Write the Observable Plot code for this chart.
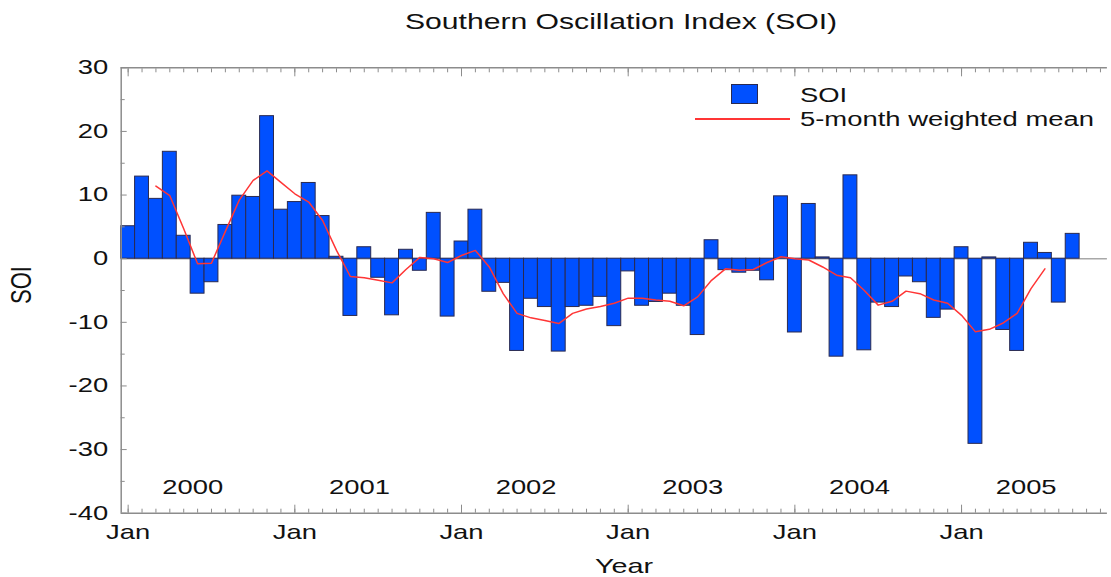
<!DOCTYPE html>
<html><head><meta charset="utf-8">
<script src="https://cdn.jsdelivr.net/npm/d3@7"></script>
<script src="https://cdn.jsdelivr.net/npm/@observablehq/plot@0.6"></script>
<style>
html,body{margin:0;padding:0;background:#fff;overflow:hidden;}
#wrap{position:relative;width:1111px;height:577px;font-family:"Liberation Sans",Arial,sans-serif;color:#111;}
#head{height:50px;}
.t{position:absolute;white-space:nowrap;transform-origin:0 0;}
svg{display:block;}
</style></head><body><div id="wrap"><div id="head"></div></div>
<script>
// ---- data ----
const startYear = 2000;
const soi = [
  5.1, 12.9, 9.4, 16.8, 3.6, -5.5, -3.7, 5.3, 9.9, 9.7, 22.4, 7.7,
  8.9, 11.9, 6.7, 0.3, -9.0, 1.8, -3.0, -8.9, 1.4, -1.9, 7.2, -9.1,
  2.7, 7.7, -5.2, -3.8, -14.5, -6.3, -7.6, -14.6, -7.6, -7.4, -6.0, -10.6,
  -2.0, -7.4, -6.8, -5.5, -7.4, -12.0, 2.9, -1.8, -2.2, -1.9, -3.4, 9.8,
  -11.6, 8.6, 0.2, -15.4, 13.1, -14.4, -6.9, -7.6, -2.8, -3.7, -9.3, -8.0,
  1.8, -29.1, 0.2, -11.2, -14.5, 2.5, 0.9, -6.9, 3.9
];
const meanStart = 2; // first month of the weighted mean (Mar 2000)
const weightedMean = [
  11.4, 9.9, 4.7, -0.8, -0.7, 4.3, 9.2, 12.3, 13.8, 12.0,
  10.2, 8.9, 6.0, 1.3, -2.8, -3.0, -3.4, -3.8, -1.7, 0.2, 0.0, -0.6,
  0.5, 1.3, -1.3, -5.5, -8.6, -9.3, -9.7, -10.2, -8.6, -7.9, -7.5, -7.0,
  -6.2, -6.2, -6.5, -6.7, -7.4, -6.0, -3.4, -1.6, -1.8, -1.7, -0.6, 0.3,
  0.0, -0.2, -1.3, -2.6, -3.0, -5.0, -7.3, -6.7, -5.1, -5.5, -6.5, -7.0,
  -8.9, -11.5, -11.1, -10.1, -8.6, -4.7, -1.6
];
const yearLabels = [2000, 2001, 2002, 2003, 2004, 2005];
const monthLabel = "Jan";
const yTicks = [-40, -30, -20, -10, 0, 10, 20, 30];
const yMinorTicks = [-35, -25, -15, -5, 5, 15, 25];
const xDomain = [-0.5, 70.5];
const yDomain = [-40, 30];
const titleText = "Southern Oscillation Index (SOI)";
const xLabel = "Year";
const yLabel = "SOI";
const legendBars = "SOI";
const legendLine = "5-month weighted mean";

// ---- tables ----
const bars = soi.map((v, i) => ({i, v}));
const mean = weightedMean.map((v, k) => ({i: k + meanStart, v}));
const janTicks = yearLabels.map(y => (y - startYear) * 12);
const monthTicks = d3.range(0, Math.floor(xDomain[1]) + 1);
const yearPos = yearLabels.map(y => (y - startYear) * 12 + 4.65);

const axisColor = "#8c8c8c";
const S = 1.37; // horizontal stretch of the reference's lettering

const chart = Plot.plot({
  width: 1111, height: 527,
  marginLeft: 120.7, marginRight: 4.1, marginTop: 17.3, marginBottom: 64.3,
  style: {fontFamily: '"Liberation Sans", Arial, sans-serif', fontSize: "20px", color: "#111", background: "#fff", overflow: "visible"},
  x: {type: "linear", domain: xDomain},
  y: {domain: yDomain},
  marks: [
    Plot.ruleY([0], {stroke: "#a8a8a8", strokeWidth: 1.5}),
    Plot.rectY(bars, {x1: d => d.i - 0.5, x2: d => d.i + 0.5, y: "v", fill: "#0050ff", stroke: "#2a2a50", strokeWidth: 1}),
    Plot.line(mean, {x: "i", y: "v", stroke: "#ff3535", strokeWidth: 1.5}),
    // frame lines
    Plot.ruleX([xDomain[0]], {stroke: axisColor, strokeWidth: 1.5}),
    Plot.ruleY(yDomain, {stroke: axisColor, strokeWidth: 1.5}),
    // inward ticks
    Plot.axisX(monthTicks, {anchor: "bottom", tickSize: 4, insetBottom: 4, fill: "none", label: null, stroke: axisColor}),
    Plot.axisX(janTicks, {anchor: "bottom", tickSize: 8, insetBottom: 8, fill: "none", label: null, stroke: axisColor}),
    Plot.axisX(monthTicks, {anchor: "top", tickSize: 4, insetTop: 4, fill: "none", label: null, stroke: axisColor}),
    Plot.axisX(janTicks, {anchor: "top", tickSize: 8, insetTop: 8, fill: "none", label: null, stroke: axisColor}),
    Plot.axisY(yTicks, {anchor: "left", tickSize: 6, insetLeft: 6, fill: "none", label: null, stroke: axisColor}),
    Plot.axisY(yMinorTicks, {anchor: "left", tickSize: 4, insetLeft: 4, fill: "none", label: null, stroke: axisColor}),
    // labels
    Plot.axisX(janTicks, {anchor: "bottom", tickSize: 0, tickPadding: 12, tickFormat: () => monthLabel, label: null, fill: "#111"}),
    Plot.axisX(yearPos, {anchor: "bottom", tickSize: 0, tickPadding: 0, dy: -33, tickFormat: (d) => String(yearLabels[yearPos.indexOf(d)]), label: null, fill: "#111"}),
    Plot.axisY(yTicks, {anchor: "left", tickSize: 0, tickPadding: 13, tickFormat: d => String(d), label: null, fill: "#111"})
  ]
});

// stretch lettering horizontally like the reference (y attributes may be in em; keep them)
chart.querySelectorAll("text").forEach(t => {
  const tr = t.getAttribute("transform") || "";
  const xa = t.getAttribute("x");
  let xn = 0;
  if (xa !== null && /^-?[\d.]+$/.test(xa.trim())) { xn = +xa; t.removeAttribute("x"); }
  t.setAttribute("transform", `${tr} translate(${xn},0) scale(${S},1)`);
});

const wrap = document.getElementById("wrap");
wrap.appendChild(chart);

function addText(txt, left, top, size, center) {
  const d = document.createElement("div");
  d.className = "t";
  d.textContent = txt;
  d.style.left = left + "px";
  d.style.top = top + "px";
  d.style.fontSize = size + "px";
  d.style.lineHeight = size + "px";
  d.style.transform = center ? `scaleX(${S}) translateX(-50%)` : `scaleX(${S})`;
  wrap.appendChild(d);
  return d;
}
addText(titleText, 621, 11.4, 22, true);
addText(xLabel, 623.5, 555, 21, true);
// rotated y label
const yl = document.createElement("div");
yl.textContent = yLabel;
Object.assign(yl.style, {position: "absolute", left: "-9px", top: "274px", width: "60px", height: "22px",
  lineHeight: "22px", fontSize: "22px", textAlign: "center", transformOrigin: "50% 50%",
  transform: `rotate(-90deg) scaleY(${S})`, color: "#111"});
wrap.appendChild(yl);

// legend
const sw = document.createElement("div");
Object.assign(sw.style, {position: "absolute", left: "731px", top: "84px", width: "25px", height: "18px",
  background: "#0050ff", border: "1px solid #2a2a50"});
wrap.appendChild(sw);
const ln = document.createElement("div");
Object.assign(ln.style, {position: "absolute", left: "695px", top: "118px", width: "95px", height: "2px", background: "#ff3535"});
wrap.appendChild(ln);
addText(legendBars, 800, 85, 20, false);
addText(legendLine, 800, 109, 20, false);
</script>
</body></html>
